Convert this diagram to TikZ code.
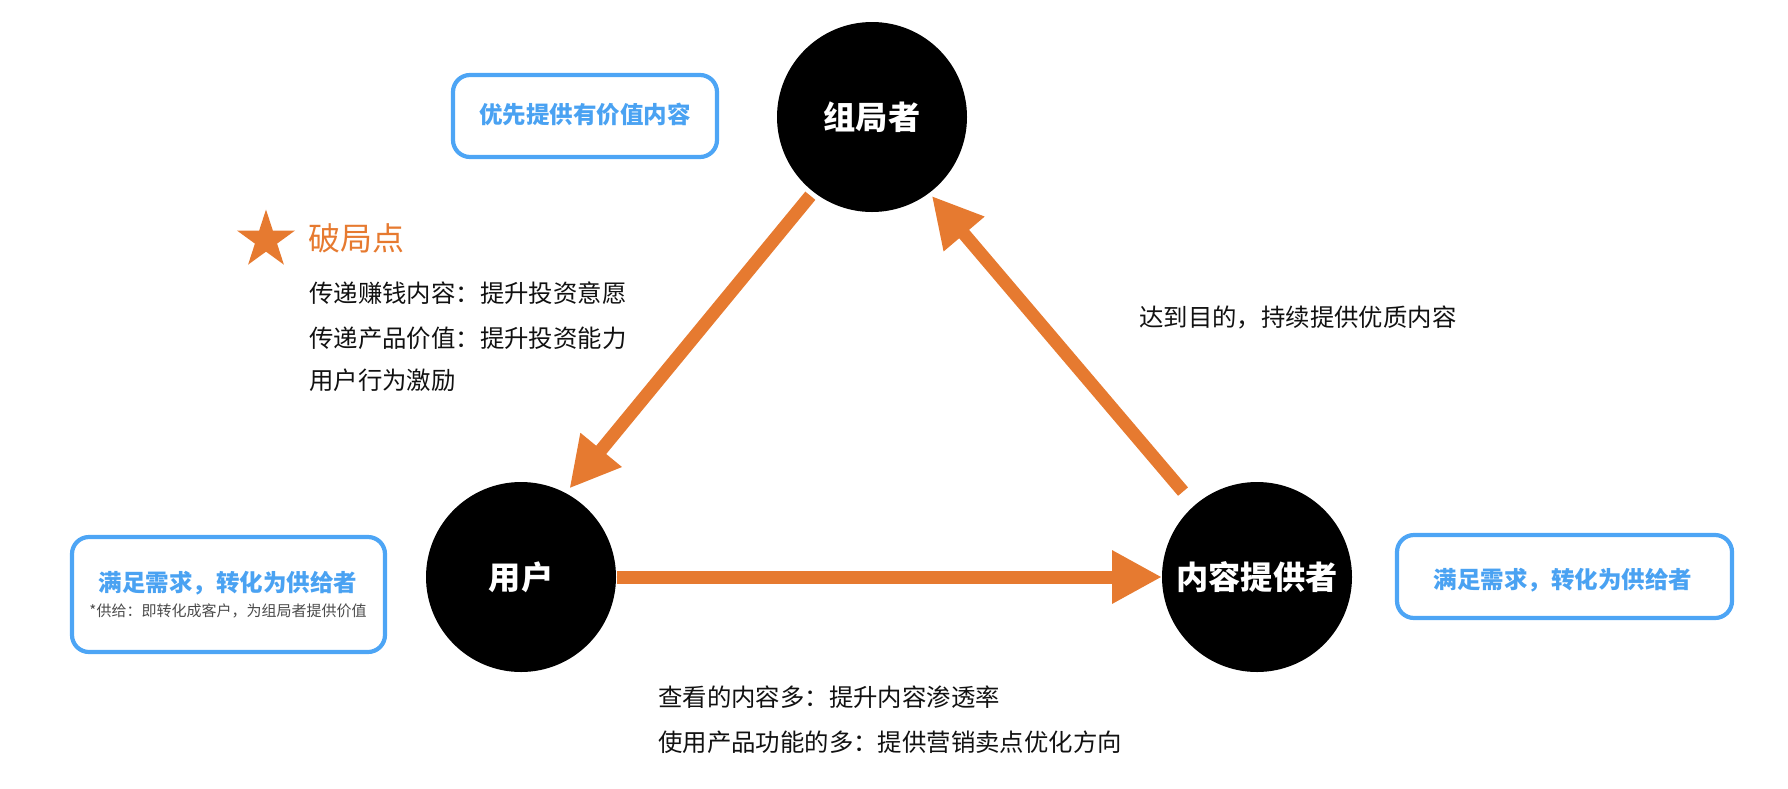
\documentclass[tikz,border=0pt]{standalone}
\usepackage{fontspec}
\setmainfont{Noto Sans CJK SC}
\usetikzlibrary{arrows.meta,shapes.geometric}
\definecolor{orng}{HTML}{E67A30}
\definecolor{bluetx}{HTML}{4AA2F2}
\definecolor{blueln}{HTML}{4DA5F5}
\definecolor{subgray}{HTML}{4A4A4A}
\definecolor{txt}{HTML}{111111}
\tikzset{
  actor/.style={circle,fill=black,draw=none,minimum size=190pt,inner sep=0pt,outer sep=0pt,
    text=white,font=\fontsize{32.2pt}{36pt}\selectfont\bfseries},
  flow/.style={draw=orng,line width=13pt,
    -{Triangle[length=50pt,width=50pt]}},
  body/.style={text=txt,font=\fontsize{24.4pt}{28pt}\selectfont,inner sep=0pt,anchor=west},
  bluebox/.style={draw=blueln,line width=4.2pt,rounded corners=17pt},
  bluetext/.style={text=bluetx,font=\fontsize{23.5pt}{28pt}\selectfont\bfseries,inner sep=0pt},
}
\begin{document}
\begin{tikzpicture}[x=1pt,y=-1pt]
\useasboundingbox (0,0) rectangle (1788,788);
% actors
\node[actor] (zj) at (872,117) {组局者};
\node[actor] (yh) at (521,577) {用户};
\node[actor] (nr) at (1257,577) {内容提供者};
% connectors
\draw[flow,shorten <=5pt,shorten >=6pt] (zj.232) -- (yh.62);
\draw[flow,shorten <=1pt,shorten >=0pt] (yh) -- (nr);
\draw[flow,shorten <=18pt,shorten >=4pt] (nr.131) -- (zj.307);
% blue boxes
\coordinate (b1a) at (453,75); \coordinate (b1b) at (717,157);
\draw[bluebox] (b1a) rectangle (b1b);
\node[bluetext] (b1t) at (585,115) {优先提供有价值内容};
\coordinate (b2a) at (72,537); \coordinate (b2b) at (385,652);
\draw[bluebox] (b2a) rectangle (b2b);
\node[bluetext] (b2t) at (228,583) {满足需求，转化为供给者};
\node[text=subgray,font=\fontsize{15pt}{18pt}\selectfont,inner sep=0pt] (b2s) at (228,611) {*供给：即转化成客户，为组局者提供价值};
\coordinate (b3a) at (1397,535); \coordinate (b3b) at (1732,618);
\draw[bluebox] (b3a) rectangle (b3b);
\node[bluetext] (b3t) at (1563,580) {满足需求，转化为供给者};
% breakthrough point
\node[star,star points=5,star point ratio=2.618,fill=orng,draw=none,minimum size=61pt,inner sep=0pt] (st) at (266,240) {};
\node[text=orng,font=\fontsize{32pt}{36pt}\selectfont,inner sep=0pt,anchor=west] (pj) at (308,238) {破局点};
\node[body] (l1) at (309,293) {传递赚钱内容：提升投资意愿};
\node[body] (l2) at (309,338) {传递产品价值：提升投资能力};
\node[body] (l3) at (309,380) {用户行为激励};
% other labels
\node[body] (r1) at (1139,317) {达到目的，持续提供优质内容};
\node[body] (d1) at (658,697) {查看的内容多：提升内容渗透率};
\node[body] (d2) at (658,742) {使用产品功能的多：提供营销卖点优化方向};
\end{tikzpicture}
\end{document}
